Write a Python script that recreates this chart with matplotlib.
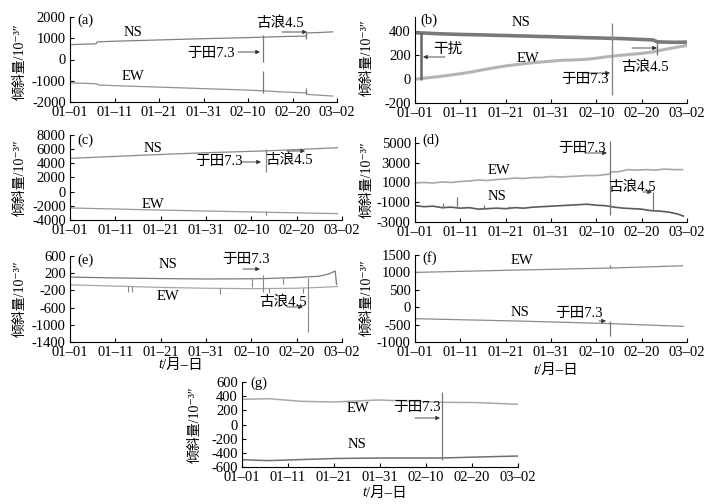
import matplotlib
matplotlib.use('Agg')
import matplotlib.pyplot as plt

plt.rcParams['font.family'] = ['Liberation Serif', 'Noto Sans CJK SC', 'DejaVu Serif']
plt.rcParams['axes.unicode_minus'] = False

W, H = 713, 504

# 日期: 0 = 01-01
tick_days = [0, 10, 20, 30, 40, 50, 60]
tick_labels = ['01–01', '01–11', '01–21', '01–31', '02–10', '02–20', '03–02']

# (a)
a_ns_day = [0, 3, 5.9, 6.1, 10, 20, 30, 40, 43, 48, 53, 53.2, 56, 59]
a_ns_val = [700, 720, 740, 830, 860, 920, 980, 1030, 1050, 1080, 1100, 1250, 1270, 1300]
a_ew_day = [0, 3, 5.9, 6.5, 10, 20, 30, 40, 43, 48, 53, 53.2, 56, 59]
a_ew_val = [-1100, -1120, -1140, -1200, -1230, -1300, -1370, -1440, -1470, -1530, -1570, -1640, -1680, -1720]
a_spk_day = [43.3, 43.3, 53.1, 53.1]
a_spk_top = [1150, -550, 1230, -1350]
a_spk_bot = [-100, -1580, 950, -1600]

# (b)
b_ns_day = [0, 2.5, 5, 7.5, 10, 12.5, 15, 17.5, 20, 22.5, 25, 27.5, 30, 32.5, 35, 37.5, 40, 42.5, 45, 47.5, 50, 52.5, 53.5, 55, 57.5, 60]
b_ns_val = [388, 385, 380, 377, 374, 372, 370, 367, 365, 362, 360, 357, 355, 352, 350, 347, 345, 342, 340, 336, 332, 328, 312, 310, 308, 310]
b_ew_day = [0, 1.3, 2.5, 5, 7.5, 10, 12.5, 15, 17.5, 20, 22.5, 25, 27.5, 30, 32.5, 35, 37.5, 40, 42.5, 45, 47.5, 50, 52.5, 55, 57.5, 60]
b_ew_val = [0, 5, 10, 20, 32, 45, 60, 78, 95, 110, 122, 133, 142, 150, 158, 160, 165, 175, 188, 198, 207, 215, 228, 248, 265, 282]
b_spk_day = [1.3, 43.4, 53.3]
b_spk_top = [395, 470, 320]
b_spk_bot = [-5, -130, 200]

# (c)
c_ns_day = [0, 10, 20, 30, 43, 50, 59]
c_ns_val = [4700, 4980, 5250, 5500, 5750, 5950, 6200]
c_ew_day = [0, 20, 43, 59]
c_ew_val = [-2300, -2600, -2900, -3100]
c_spk_day = [43.3, 43.3]
c_spk_top = [6000, -2750]
c_spk_bot = [2750, -3300]

# (d)
d_ew_day = [0, 2, 4, 6, 8, 10, 12, 14, 16, 18, 20, 22, 24, 26, 28, 30, 32, 34, 36, 38, 40, 42, 43, 43.2, 45, 47, 49, 51, 53, 55, 57, 59]
d_ew_val = [950, 1000, 950, 1050, 1000, 1100, 1150, 1250, 1200, 1300, 1350, 1450, 1400, 1500, 1500, 1600, 1550, 1600, 1650, 1700, 1700, 1800, 1850, 2050, 2100, 2300, 2250, 2300, 2250, 2350, 2300, 2300]
d_ns_day = [0, 2, 4, 6, 8, 10, 12, 14, 16, 18, 20, 22, 24, 26, 28, 30, 32, 34, 36, 38, 40, 42, 44, 46, 48, 50, 52, 54, 56, 58, 59.2]
d_ns_val = [-1350, -1450, -1400, -1550, -1500, -1600, -1550, -1700, -1650, -1600, -1650, -1550, -1600, -1500, -1450, -1400, -1350, -1300, -1250, -1200, -1300, -1350, -1500, -1600, -1650, -1700, -1850, -1900, -2000, -2200, -2400]
d_spk_day = [6.2, 9.3, 15.2, 20.7, 43.0, 52.6]
d_spk_top = [-1100, -500, -1300, -1400, 5200, 50]
d_spk_bot = [-1550, -1550, -1700, -1700, -2300, -1900]

# (e)
e_ns_day = [0, 10, 20, 30, 40, 43, 50, 55, 57, 58.5, 58.8]
e_ns_val = [110, 90, 75, 65, 70, 75, 100, 130, 180, 250, -60]
e_ew_day = [0, 10, 20, 30, 40, 50, 55, 59]
e_ew_val = [-70, -100, -130, -150, -160, -150, -130, -110]
e_spk_day = [12.7, 13.7, 33.0, 40.1, 42.6, 43.8, 47.0, 51.5, 52.6]
e_spk_top = [-100, -100, -140, 70, 160, -140, 80, -140, 100]
e_spk_bot = [-230, -230, -290, -120, -230, -260, -40, -270, -1170]

# (f)
f_ew_day = [0, 20, 43, 59]
f_ew_val = [1000, 1060, 1125, 1190]
f_ns_day = [0, 23.6, 42.6, 59.2]
f_ns_val = [-330, -400, -470, -550]
f_spk_day = [43.0, 43.0]
f_spk_top = [1200, -390]
f_spk_bot = [1120, -840]

# (g)
g_ew_day = [0, 5.7, 13, 20.2, 29.6, 34.7, 43.4, 50.7, 60]
g_ew_val = [355, 364, 327, 318, 346, 334, 313, 310, 285]
g_ns_day = [0, 5.7, 13, 20.2, 29.6, 43.4, 50.7, 60]
g_ns_val = [-497, -510, -495, -480, -473, -473, -460, -445]
g_spk_day = [43.4]
g_spk_top = [460]
g_spk_bot = [-500]

fig = plt.figure(figsize=(W / 100, H / 100), dpi=100)


def rect(x0, x1, y0, y1):
    return [x0 / W, 1 - y1 / H, (x1 - x0) / W, (y1 - y0) / H]


def fp(x, y):
    return (x / W, 1 - y / H)


def make_ax(r, ylim, yticks):
    ax = fig.add_axes(r)
    ax.set_xlim(0, 60)
    ax.set_ylim(*ylim)
    ax.set_yticks(yticks)
    ax.set_xticks(tick_days)
    ax.set_xticklabels(tick_labels)
    for s in ['top', 'right']:
        ax.spines[s].set_visible(False)
    for s in ['left', 'bottom']:
        ax.spines[s].set_linewidth(0.8)
    ax.tick_params(direction='in', length=3, width=0.8, labelsize=10.5, pad=3)
    return ax


def txt(x, y, s, ha='center', size=10.5, **kw):
    fig.text(*fp(x, y), s, ha=ha, va='center', fontsize=size, **kw)


def arrow(ax, x0, y0, x1, y1):
    ax.annotate('', xy=fp(x1, y1), xytext=fp(x0, y0), xycoords='figure fraction',
                textcoords='figure fraction', annotation_clip=False,
                arrowprops=dict(arrowstyle='-|>', lw=0.6, color='#333', mutation_scale=6,
                                shrinkA=0, shrinkB=0))


def ylab(x, y):
    fig.text(*fp(x, y), '倾斜量/10⁻³″', rotation=90, ha='center', va='center', fontsize=10)


def xlab(x, y):
    txt(x - 10, y, 't', ha='right', style='italic')
    txt(x - 10, y, '/月–日', ha='left')


# (a)
ax = make_ax(rect(70, 337, 17, 102), (-2000, 2000), [-2000, -1000, 0, 1000, 2000])
ax.plot(a_ns_day, a_ns_val, color='#808080', lw=0.9)
ax.plot(a_ew_day, a_ew_val, color='#909090', lw=0.9)
ax.vlines(a_spk_day, a_spk_bot, a_spk_top, color='#777', lw=0.9)
txt(77, 20, '(a)', ha='left')
txt(133, 32, 'NS')
txt(133, 76, 'EW')
txt(211, 53, '于田7.3')
arrow(ax, 238, 52, 260, 52)
txt(280, 23, '古浪4.5')
arrow(ax, 282, 32, 307, 32)
ylab(20, 62)

# (b)
ax = make_ax(rect(415, 687, 17, 103), (-200, 520), [-200, 0, 200, 400])
ax.plot(b_ns_day, b_ns_val, color='#7a7a7a', lw=2.6)
ax.plot(b_ew_day, b_ew_val, color='#b4b4b4', lw=2.2)
ax.vlines(b_spk_day, b_spk_bot, b_spk_top, color=['#666', '#888', '#777'], lw=[1.8, 1.0, 1.0])
txt(420, 20, '(b)', ha='left')
txt(521, 23, 'NS')
txt(448, 49, '干扰')
arrow(ax, 445, 57, 423, 57)
txt(528, 58, 'EW')
txt(585, 80, '于田7.3')
arrow(ax, 582, 73, 610, 73)
txt(645, 67, '古浪4.5')
arrow(ax, 632, 48, 657, 48)
ylab(367, 58)

# (c)
ax = make_ax(rect(70, 342, 135, 220), (-4000, 8000), [-4000, -2000, 0, 2000, 4000, 6000, 8000])
ax.plot(c_ns_day, c_ns_val, color='#8a8a8a', lw=0.9)
ax.plot(c_ew_day, c_ew_val, color='#9a9a9a', lw=0.9)
ax.vlines(c_spk_day, c_spk_bot, c_spk_top, color='#888', lw=0.9)
txt(77, 140, '(c)', ha='left')
txt(153, 148, 'NS')
txt(219, 162, '于田7.3')
arrow(ax, 242, 162, 261, 162)
txt(289, 160, '古浪4.5')
arrow(ax, 287, 151, 305, 151)
txt(153, 204, 'EW')
ylab(20, 178)

# (d)
ax = make_ax(rect(415, 687, 137, 222), (-3000, 5600), [-3000, -1000, 1000, 3000, 5000])
ax.plot(d_ew_day, d_ew_val, color='#a8a8a8', lw=1.2)
ax.plot(d_ns_day, d_ns_val, color='#5a5a5a', lw=1.2)
ax.vlines(d_spk_day, d_spk_bot, d_spk_top, color='#777', lw=0.9)
txt(422, 140, '(d)', ha='left')
txt(582, 148, '于田7.3')
arrow(ax, 585, 153, 607, 153)
txt(499, 171, 'EW')
txt(632, 187, '古浪4.5')
arrow(ax, 643, 192, 652, 192)
txt(497, 197, 'NS')
ylab(367, 180)

# (e)
ax = make_ax(rect(70, 342, 256, 342), (-1400, 600), [-1400, -1000, -600, -200, 200, 600])
ax.plot(e_ns_day, e_ns_val, color='#7a7a7a', lw=0.9)
ax.plot(e_ew_day, e_ew_val, color='#a8a8a8', lw=0.9)
ax.vlines(e_spk_day, e_spk_bot, e_spk_top, color='#888', lw=0.8)
txt(77, 260, '(e)', ha='left')
txt(168, 265, 'NS')
txt(246, 260, '于田7.3')
arrow(ax, 243, 269, 260, 269)
txt(168, 297, 'EW')
txt(283, 302, '古浪4.5')
arrow(ax, 287, 307, 303, 307)
xlab(172, 365)
ylab(20, 299)

# (f)
ax = make_ax(rect(415, 687, 255, 342), (-1000, 1500), [-1000, -500, 0, 500, 1000, 1500])
ax.plot(f_ew_day, f_ew_val, color='#8c8c8c', lw=0.9)
ax.plot(f_ns_day, f_ns_val, color='#8c8c8c', lw=0.9)
ax.vlines(f_spk_day, f_spk_bot, f_spk_top, color='#777', lw=0.9)
txt(422, 258, '(f)', ha='left')
txt(522, 260, 'EW')
txt(520, 313, 'NS')
txt(579, 313, '于田7.3')
arrow(ax, 599, 321, 606, 321)
xlab(547, 370)
ylab(367, 298)

# (g)
ax = make_ax(rect(242, 518, 382, 467), (-600, 600), [-600, -400, -200, 0, 200, 400, 600])
ax.plot(g_ew_day, g_ew_val, color='#a8a8a8', lw=1.1)
ax.plot(g_ns_day, g_ns_val, color='#707070', lw=1.1)
ax.vlines(g_spk_day, g_spk_bot, g_spk_top, color='#777', lw=0.9)
txt(250, 383, '(g)', ha='left')
txt(358, 408, 'EW')
txt(417, 407, '于田7.3')
arrow(ax, 415, 418, 440, 418)
txt(357, 444, 'NS')
xlab(376, 493)
ylab(195, 425)

fig.savefig('out.png', dpi=100)
